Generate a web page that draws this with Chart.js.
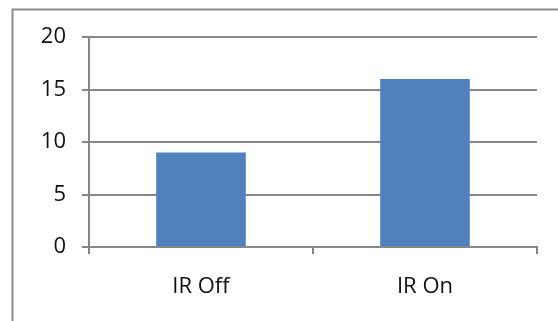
<!DOCTYPE html>
<html>
<head>
<meta charset="utf-8">
<script src="https://cdn.jsdelivr.net/npm/chart.js@4.4.1/dist/chart.umd.min.js"></script>
<style>
  html, body { margin: 0; padding: 0; background: #ffffff; }
  #wrap { position: relative; width: 558px; height: 321px; }
</style>
</head>
<body>
<div id="wrap"><canvas id="chart" width="558" height="321"></canvas></div>
<script>
// Chart data
const categories = ['IR Off', 'IR On'];
const counts = [9, 16];
const yTicks = [0, 5, 10, 15, 20];

const FONT = '"Open Sans", "Liberation Sans", sans-serif';
const GRID = '#878787';

// Outer frame of the chart object (its right and bottom edges run past the canvas)
const framePlugin = {
  id: 'frame',
  beforeDraw(chart) {
    const ctx = chart.ctx;
    ctx.save();
    ctx.strokeStyle = '#8a8a8a';
    ctx.lineWidth = 2;
    ctx.strokeRect(12.5, 9.5, 600, 400);
    ctx.restore();
  }
};

new Chart(document.getElementById('chart'), {
  type: 'bar',
  data: {
    labels: categories,
    datasets: [{
      data: counts,
      backgroundColor: '#4f81bd',
      borderWidth: 0,
      categoryPercentage: 1,
      barPercentage: 0.4
    }]
  },
  options: {
    responsive: false,
    animation: false,
    devicePixelRatio: 1,
    layout: { padding: { left: 0, right: 21, top: 37, bottom: 0 } },
    plugins: {
      legend: { display: false },
      tooltip: { enabled: false }
    },
    scales: {
      x: {
        offset: true,
        grid: {
          offset: true,
          drawOnChartArea: false,
          drawTicks: true,
          tickLength: 7,
          color: GRID,
          lineWidth: 2
        },
        border: { display: true, color: GRID, width: 2 },
        ticks: {
          color: '#111111',
          font: { family: FONT, size: 22 },
          padding: 20
        },
        afterFit(scale) { scale.height = 74; }
      },
      y: {
        min: 0,
        max: 20,
        afterBuildTicks(scale) {
          scale.ticks = yTicks.map(v => ({ value: v }));
        },
        grid: {
          color: GRID,
          lineWidth: 2,
          drawTicks: true,
          tickLength: 7
        },
        border: { display: true, color: GRID, width: 2 },
        ticks: {
          color: '#111111',
          font: { family: FONT, size: 22 },
          padding: 16
        },
        afterFit(scale) { scale.width = 89; }
      }
    }
  },
  plugins: [framePlugin]
});
</script>
</body>
</html>
